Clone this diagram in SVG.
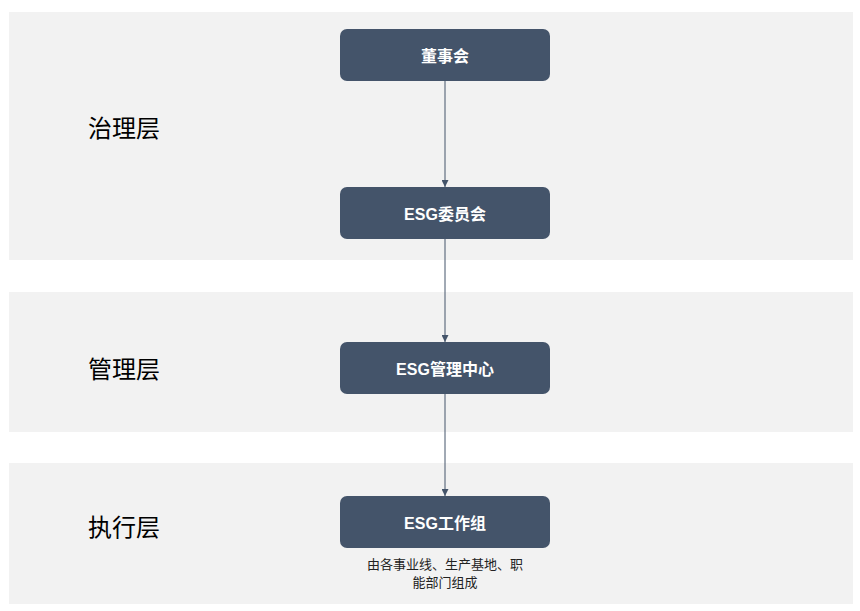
<svg xmlns="http://www.w3.org/2000/svg" width="860" height="611" viewBox="0 0 860 611">
<style>
.band{fill:#f2f2f2}
.node{fill:#44546a}
.nt{fill:#fff;font-family:"Liberation Sans","Noto Sans CJK SC",sans-serif;font-size:16px;font-weight:bold;text-anchor:middle;dominant-baseline:central}
.lt{fill:#000;font-family:"Noto Sans CJK SC",sans-serif;font-size:24px}
.st{fill:#222;font-family:"Noto Sans CJK SC",sans-serif;font-size:13px;text-anchor:middle}
.c{stroke:#44546a;stroke-width:1;fill:none;marker-end:url(#a)}
</style>
<defs><marker id="a" viewBox="0 0 10 10" refX="10" refY="5" markerWidth="7" markerHeight="7" orient="auto" markerUnits="userSpaceOnUse"><path d="M0,0L10,5L0,10z" fill="#44546a"/></marker></defs>
<rect width="860" height="611" fill="#fff"/>
<rect class="band" x="9" y="12" width="844" height="248"/>
<rect class="band" x="9" y="292" width="844" height="140"/>
<rect class="band" x="9" y="463" width="844" height="141"/>
<text class="lt" x="88" y="137">治理层</text>
<text class="lt" x="88" y="378">管理层</text>
<text class="lt" x="88" y="536">执行层</text>
<g id="connectors">
<line class="c" x1="445" y1="81" x2="445" y2="187"/>
<line class="c" x1="445" y1="239" x2="445" y2="342"/>
<line class="c" x1="445" y1="394" x2="445" y2="496"/>
</g>
<g id="n1"><rect class="node" x="340" y="29" width="210" height="52" rx="7"/><text class="nt" x="445" y="56">董事会</text></g>
<g id="n2"><rect class="node" x="340" y="187" width="210" height="52" rx="7"/><text class="nt" x="445" y="214">ESG委员会</text></g>
<g id="n3"><rect class="node" x="340" y="342" width="210" height="52" rx="7"/><text class="nt" x="445" y="369">ESG管理中心</text></g>
<g id="n4"><rect class="node" x="340" y="496" width="210" height="52" rx="7"/><text class="nt" x="445" y="523">ESG工作组</text>
<text class="st" x="445" y="569">由各事业线、生产基地、职</text><text class="st" x="445" y="587">能部门组成</text></g>
</svg>
